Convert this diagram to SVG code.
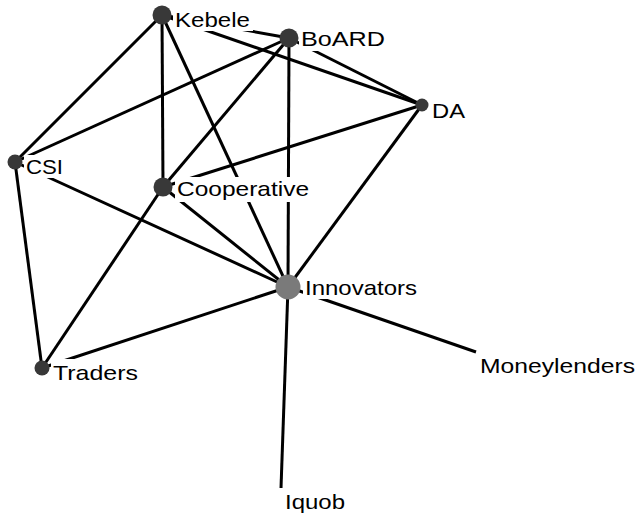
<svg xmlns="http://www.w3.org/2000/svg" width="637" height="517" viewBox="0 0 637 517">
<style>
.e{stroke:#000;stroke-width:3;fill:none}
.n{fill:#383838}
.big{fill:#7a7a7a}
.bg{fill:#fff}
text{font-family:"Liberation Sans",Arial,sans-serif;font-size:21px;fill:#000}
</style>
<rect width="637" height="517" fill="#fff"/>
<g id="edges">
<line class="e" x1="162" y1="15" x2="289" y2="38"/>
<line class="e" x1="162" y1="15" x2="422" y2="105"/>
<line class="e" x1="162" y1="15" x2="15" y2="162"/>
<line class="e" x1="162" y1="15" x2="163" y2="187"/>
<line class="e" x1="162" y1="15" x2="288" y2="287"/>
<line class="e" x1="289" y1="38" x2="422" y2="105"/>
<line class="e" x1="289" y1="38" x2="15" y2="162"/>
<line class="e" x1="289" y1="38" x2="163" y2="187"/>
<line class="e" x1="289" y1="38" x2="288" y2="287"/>
<line class="e" x1="422" y1="105" x2="163" y2="187"/>
<line class="e" x1="422" y1="105" x2="288" y2="287"/>
<line class="e" x1="15" y1="162" x2="42" y2="368"/>
<line class="e" x1="15" y1="162" x2="288" y2="287"/>
<line class="e" x1="163" y1="187" x2="42" y2="368"/>
<line class="e" x1="163" y1="187" x2="288" y2="287"/>
<line class="e" x1="42" y1="368" x2="288" y2="287"/>
<line class="e" x1="288" y1="287" x2="476" y2="352"/>
<line class="e" x1="288" y1="287" x2="281" y2="488"/>
</g>
<g id="Kebele"><circle class="n" cx="162" cy="15" r="9.5"/><rect class="bg" x="173" y="8" width="80" height="23"/><text x="175" y="27" textLength="75" lengthAdjust="spacingAndGlyphs">Kebele</text></g>
<g id="BoARD"><circle class="n" cx="289" cy="38" r="9.5"/><rect class="bg" x="299" y="29" width="89" height="22"/><text x="301" y="46" textLength="84" lengthAdjust="spacingAndGlyphs">BoARD</text></g>
<g id="DA"><circle class="n" cx="422" cy="105" r="6.5"/><rect class="bg" x="430" y="99" width="38" height="23"/><text x="432" y="118" textLength="33" lengthAdjust="spacingAndGlyphs">DA</text></g>
<g id="CSI"><circle class="n" cx="15" cy="162" r="7.5"/><rect class="bg" x="24" y="155" width="42" height="23"/><text x="26" y="174" textLength="37" lengthAdjust="spacingAndGlyphs">CSI</text></g>
<g id="Cooperative"><circle class="n" cx="163" cy="187" r="9.5"/><rect class="bg" x="175" y="177" width="137" height="25"/><text x="177" y="196" textLength="132" lengthAdjust="spacingAndGlyphs">Cooperative</text></g>
<g id="Innovators"><circle class="big" cx="288" cy="287" r="12.5"/><rect class="bg" x="303" y="276" width="117" height="23"/><text x="305" y="295" textLength="112" lengthAdjust="spacingAndGlyphs">Innovators</text></g>
<g id="Traders"><circle class="n" cx="42" cy="368" r="7.5"/><rect class="bg" x="51" y="359" width="90" height="25"/><text x="53" y="380" textLength="85" lengthAdjust="spacingAndGlyphs">Traders</text></g>
<g id="Moneylenders"><rect class="bg" x="478" y="352" width="159" height="25"/><text x="480" y="373" textLength="155" lengthAdjust="spacingAndGlyphs">Moneylenders</text></g>
<g id="Iquob"><rect class="bg" x="283" y="489" width="65" height="25"/><text x="285" y="509" textLength="60" lengthAdjust="spacingAndGlyphs">Iquob</text></g>
</svg>
